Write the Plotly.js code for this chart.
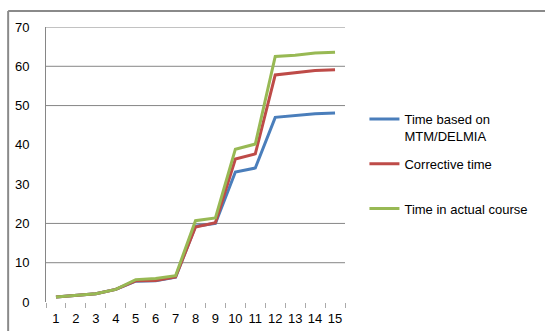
<!DOCTYPE html>
<html>
<head>
<meta charset="utf-8">
<script src="https://cdn.plot.ly/plotly-3.0.1.min.js"></script>
<style>
html,body{margin:0;padding:0;background:#fff;}
#chart{width:545px;height:331px;}
</style>
</head>
<body>
<div id="chart"></div>
<script>
const categories = ["1","2","3","4","5","6","7","8","9","10","11","12","13","14","15"];
const seriesNames = ["Time based on<br>MTM/DELMIA", "Corrective time<br>&nbsp;", "Time in actual course"];
const mtmDelmia = [1.3, 1.7, 2.1, 3.2, 5.3, 5.4, 6.3, 19.3, 20.0, 33.1, 34.1, 47.0, 47.4, 47.9, 48.1];
const corrective = [1.3, 1.7, 2.1, 3.2, 5.4, 5.5, 6.4, 19.1, 20.2, 36.4, 37.7, 57.8, 58.4, 58.9, 59.1];
const actualCourse = [1.3, 1.7, 2.1, 3.2, 5.7, 6.0, 6.7, 20.7, 21.4, 38.9, 40.2, 62.5, 62.8, 63.4, 63.6];
const gridValues = [10, 20, 50, 60, 70];
const yTickValues = [0, 10, 20, 30, 40, 50, 60, 70];

const colors = ["#4a7ebb", "#be4b48", "#98b954"];
const allSeries = [mtmDelmia, corrective, actualCourse];

const traces = allSeries.map((vals, i) => ({
  type: "scatter",
  mode: "lines",
  x: categories,
  y: vals,
  name: seriesNames[i],
  legendgroup: "g" + i,
  line: {color: colors[i], width: 3}
}));

const shapes = gridValues.map(v => ({
  type: "line", xref: "paper", yref: "y",
  x0: 0, x1: 1, y0: v, y1: v,
  line: {color: "#868686", width: 1},
  layer: "below"
}));
// outer chart frame (left and top edges)
shapes.push({type: "line", xref: "paper", yref: "paper", x0: -0.1266, x1: -0.1266, y0: 1.0582, y1: -0.3, line: {color: "#8a8a8a", width: 2}});
shapes.push({type: "line", xref: "paper", yref: "paper", x0: -0.1266, x1: 1.8, y0: 1.0582, y1: 1.0582, line: {color: "#8a8a8a", width: 2}});

const font = {family: "Liberation Sans, Arial, sans-serif", size: 12, color: "#000"};

const layout = {
  width: 545, height: 331,
  margin: {l: 46, r: 195, t: 27, b: 29, pad: 0},
  paper_bgcolor: "#fff", plot_bgcolor: "#fff",
  font: font,
  showlegend: true,
  legend: {
    x: 1.065, y: 0.72, xanchor: "left", yanchor: "top",
    font: {family: "Liberation Sans, Arial, sans-serif", size: 13, color: "#000"},
    tracegroupgap: 8, valign: "top", bgcolor: "rgba(0,0,0,0)"
  },
  xaxis: {
    type: "category", range: [-0.5, categories.length - 0.5],
    showgrid: false, zeroline: false, showline: false,
    ticks: "outside", tickson: "boundaries", ticklen: 5, tickcolor: "#aaa",
    tickangle: 0,
    tickfont: {family: "Liberation Sans, Arial, sans-serif", size: 13, color: "#000"},
    ticklabelstandoff: 7, fixedrange: true
  },
  yaxis: {
    range: [0, 70], tickvals: yTickValues, showgrid: false, zeroline: false,
    showline: true, linecolor: "#868686", linewidth: 1, ticks: "",
    tickfont: {family: "Liberation Sans, Arial, sans-serif", size: 13, color: "#000"},
    ticklabelstandoff: 13, fixedrange: true
  },
  shapes: shapes
};

Plotly.newPlot("chart", traces, layout, {displayModeBar: false, staticPlot: true});
</script>
</body>
</html>
